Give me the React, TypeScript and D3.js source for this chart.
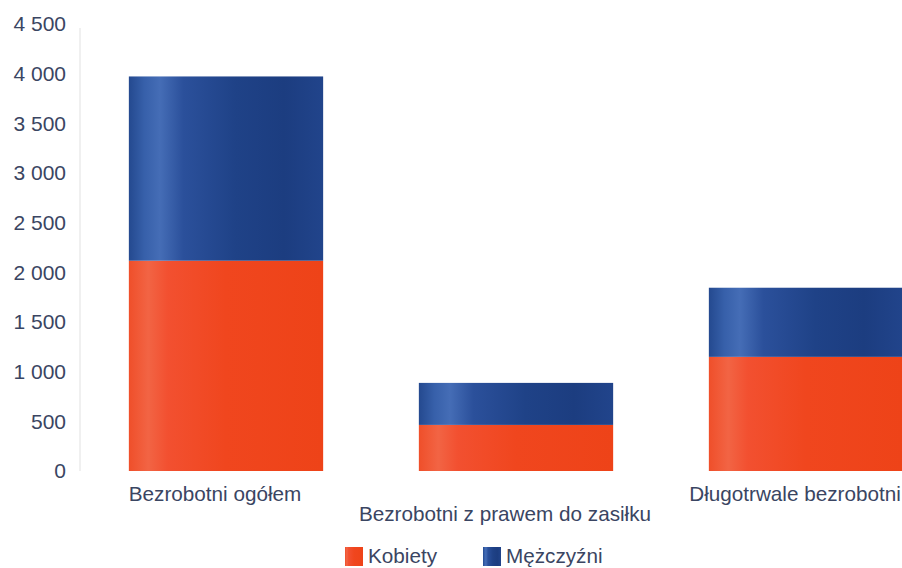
import React from "react";
import * as d3 from "d3";

const categories = ["Bezrobotni ogółem", "Bezrobotni z prawem do zasiłku", "Długotrwale bezrobotni"];
const seriesNames = ["Kobiety", "Mężczyźni"];
const kobiety = [2117, 464, 1149];
const mezczyzni = [1855, 423, 696];
const yTicks = [0, 500, 1000, 1500, 2000, 2500, 3000, 3500, 4000, 4500];

const W = 902;
const H = 568;
const TEXT = "#3a4562";
const FONT = "'Liberation Sans', Arial, sans-serif";

const locale = d3.formatLocale({ decimal: ",", thousands: " ", grouping: [3], currency: ["", " zł"] });
const fmt = locale.format(",d");

export default function App() {
  const y = d3.scaleLinear().domain([0, 4500]).range([471, 24]);
  const x = d3
    .scaleBand<string>()
    .domain(categories)
    .range([81, 951])
    .paddingInner(0.33)
    .paddingOuter(0.165);

  const rows = categories.map((c, i) => ({ cat: c, Kobiety: kobiety[i], "Mężczyźni": mezczyzni[i] }));
  const stack = d3.stack<any>().keys(seriesNames)(rows);
  const fills = ["url(#gOrange)", "url(#gBlue)"];

  return (
    <svg
      width={W}
      height={H}
      style={{ position: "fixed", left: 0, top: 0, background: "#fff" }}
      fontFamily={FONT}
    >
      <defs>
        <linearGradient id="gBlue" x1="0" x2="1" y1="0" y2="0">
          <stop offset="0%" stopColor="#24498f" />
          <stop offset="8%" stopColor="#3760aa" />
          <stop offset="16%" stopColor="#456db6" />
          <stop offset="28%" stopColor="#2b509b" />
          <stop offset="55%" stopColor="#1f4287" />
          <stop offset="80%" stopColor="#1c3d80" />
          <stop offset="100%" stopColor="#21448b" />
        </linearGradient>
        <linearGradient id="gOrange" x1="0" x2="1" y1="0" y2="0">
          <stop offset="0%" stopColor="#ef4f2a" />
          <stop offset="10%" stopColor="#f26444" />
          <stop offset="20%" stopColor="#f25030" />
          <stop offset="50%" stopColor="#f0461e" />
          <stop offset="100%" stopColor="#ee4318" />
        </linearGradient>
      </defs>

      {/* faint y axis line */}
      <line x1={80} x2={80} y1={28} y2={471} stroke="#f0f0f0" strokeWidth={2} />

      {yTicks.map((t) => (
        <text
          key={t}
          x={66}
          y={y(t)}
          dy="0.35em"
          textAnchor="end"
          fontSize={21}
          fill={TEXT}
        >
          {fmt(t)}
        </text>
      ))}

      {stack.map((s, si) =>
        s.map((d, i) => (
          <rect
            key={si + "-" + i}
            x={x(categories[i])}
            width={x.bandwidth()}
            y={y(d[1])}
            height={y(d[0]) - y(d[1])}
            fill={fills[si]}
          />
        ))
      )}

      {categories.map((c, i) => (
        <text
          key={c}
          x={(x(c) as number) + x.bandwidth() / 2 - 11}
          y={i % 2 === 0 ? 501 : 521}
          textAnchor="middle"
          fontSize={20.7}
          fill={TEXT}
        >
          {c}
        </text>
      ))}

      {/* legend */}
      {seriesNames.map((n, i) => {
        const lx = [345, 483][i];
        return (
          <g key={n}>
            <rect x={lx} y={547} width={18} height={19} fill={fills[i]} />
            <text x={lx + 23} y={556} dy="0.35em" fontSize={20.7} fill={TEXT}>
              {n}
            </text>
          </g>
        );
      })}
    </svg>
  );
}
